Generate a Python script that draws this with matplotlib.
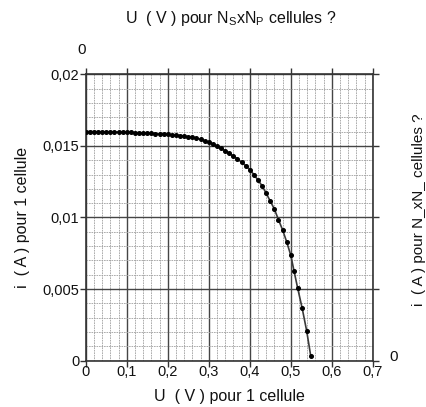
import matplotlib
matplotlib.use("Agg")
import matplotlib.pyplot as plt
from matplotlib.ticker import MultipleLocator, FixedLocator, FixedFormatter

plt.rcParams['font.family'] = ['Liberation Sans', 'DejaVu Sans']

# Data
U = [0.00, 0.01, 0.02, 0.03, 0.04, 0.05, 0.06, 0.07, 0.08, 0.09,
     0.10, 0.11, 0.12, 0.13, 0.14, 0.15, 0.16, 0.17, 0.18, 0.19,
     0.20, 0.21, 0.22, 0.23, 0.24, 0.25, 0.26, 0.27, 0.28, 0.29,
     0.30, 0.31, 0.32, 0.33, 0.34, 0.35, 0.36, 0.37, 0.38, 0.39,
     0.40, 0.41, 0.42, 0.43, 0.44, 0.45, 0.46, 0.47, 0.48, 0.49,
     0.50, 0.508, 0.517, 0.528, 0.539, 0.549]
I = [0.01600, 0.01600, 0.01599, 0.01599, 0.01598, 0.01598, 0.01597, 0.01597, 0.01596, 0.01595,
     0.01594, 0.01594, 0.01593, 0.01592, 0.01590, 0.01589, 0.01587, 0.01586, 0.01584, 0.01582,
     0.01580, 0.01578, 0.01575, 0.01572, 0.01568, 0.01564, 0.01559, 0.01553, 0.01546, 0.01535,
     0.01524, 0.01510, 0.01496, 0.01482, 0.01467, 0.01448, 0.01428, 0.01410, 0.01386, 0.01362,
     0.01335, 0.01300, 0.01262, 0.01222, 0.01170, 0.01115, 0.01060, 0.00985, 0.00915, 0.00831,
     0.00738, 0.00628, 0.00506, 0.00366, 0.00207, 0.00030]

x_ticks = [0, 0.1, 0.2, 0.3, 0.4, 0.5, 0.6, 0.7]
x_labels = ['0', '0,1', '0,2', '0,3', '0,4', '0,5', '0,6', '0,7']
y_ticks = [0, 0.005, 0.01, 0.015, 0.02]
y_labels = ['0', '0,005', '0,01', '0,015', '0,02']

fig = plt.figure(figsize=(4.26, 4.07), dpi=100)
ax = fig.add_axes([0.2012, 0.1138, 0.6737, 0.7037])

ax.set_xlim(0, 0.7)
ax.set_ylim(0, 0.02)

ax.xaxis.set_major_locator(FixedLocator(x_ticks))
ax.xaxis.set_major_formatter(FixedFormatter(x_labels))
ax.yaxis.set_major_locator(FixedLocator(y_ticks))
ax.yaxis.set_major_formatter(FixedFormatter(y_labels))
ax.xaxis.set_minor_locator(MultipleLocator(0.02))
ax.yaxis.set_minor_locator(MultipleLocator(0.001))

ax.grid(which='minor', color='#a0a0a0', linestyle=(0, (2.0, 1.0)), linewidth=0.6)
ax.grid(which='major', color='#454545', linestyle='-', linewidth=1.0)
ax.set_axisbelow(True)

for s in ax.spines.values():
    s.set_color('#333333')
    s.set_linewidth(1.2)

ax.tick_params(which='major', direction='out', length=4, width=1.0, color='#333333',
               top=True, right=True, labelsize=10.5, labelcolor='#111111')
ax.tick_params(axis='x', which='major', pad=-1)
ax.tick_params(axis='y', which='major', pad=0.5)
ax.tick_params(which='minor', length=0)

ax.plot(U, I, color='#3a3a3a', linewidth=1.2, marker='o', markersize=2.6,
        markerfacecolor='black', markeredgecolor='black', zorder=3)

ax.set_xlabel('U  ( V ) pour 1 cellule', fontsize=11.5, labelpad=7, color='#111111')
ax.set_ylabel('i  ( A ) pour 1 cellule', fontsize=11.5, labelpad=9, color='#111111')

fig.text(231 / 426, 1 - 18 / 407,
         'U  ( V ) pour N$_\\mathregular{S}$xN$_\\mathregular{P}$ cellules ?',
         ha='center', va='center', fontsize=11.5, color='#111111')
fig.text(82 / 426, 1 - 50 / 407, '0', ha='center', va='center', fontsize=11, color='#111111')
fig.text(394 / 426, 1 - 357 / 407, '0', ha='center', va='center', fontsize=11, color='#111111')
fig.text(419 / 426, 1 - 210 / 407, 'i  ( A ) pour N_xN_ cellules ?', rotation=90,
         ha='center', va='center', fontsize=11, color='#111111')

fig.savefig('out.png', dpi=100)
